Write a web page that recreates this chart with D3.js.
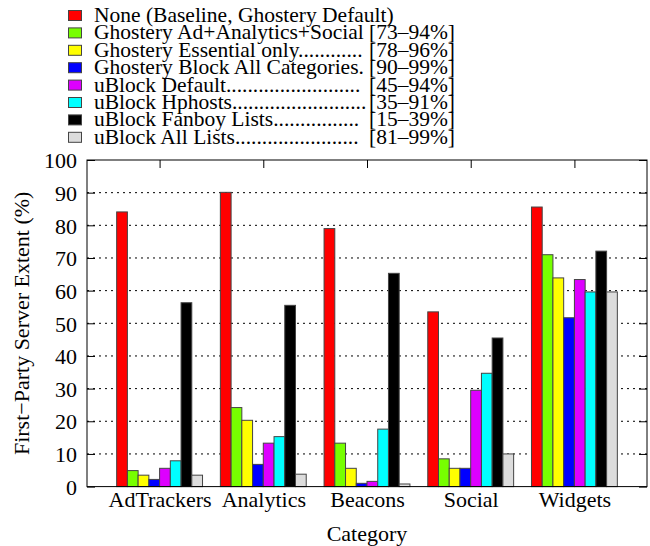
<!DOCTYPE html>
<html>
<head>
<meta charset="utf-8">
<script src="https://cdn.jsdelivr.net/npm/d3@7"></script>
<style>
  body { margin: 0; background: #fff; }
</style>
</head>
<body>
<div id="chart"></div>
<script>
const width = 650;
const height = 546;
const FONT = '"Liberation Serif", "DejaVu Serif", serif';

// categories and series
const categories = ['AdTrackers', 'Analytics', 'Beacons', 'Social', 'Widgets'];
const seriesNames = [
    'None (Baseline, Ghostery Default)',
    'Ghostery Ad+Analytics+Social',
    'Ghostery Essential only............',
    'Ghostery Block All Categories.',
    'uBlock Default.........................',
    'uBlock Hphosts.........................',
    'uBlock Fanboy Lists................',
    'uBlock All Lists.......................'
];
const seriesRanges = ['', '[73\u201394%]', '[78\u201396%]', '[90\u201399%]', '[45\u201394%]', '[35\u201391%]', '[15\u201339%]', '[81\u201399%]'];
const seriesColors = ['#ff0000', '#77ff00', '#ffff00', '#0000ff', '#dd00ff', '#00ffff', '#000000', '#dcdcdc'];

const baseline   = [84.1, 90.1, 79.0, 53.5, 85.6];
const ghAdAnSoc  = [4.9, 24.2, 13.3, 8.5, 71.0];
const ghEssent   = [3.5, 20.3, 5.6, 5.6, 63.9];
const ghBlockAll = [2.2, 6.8, 1.0, 5.6, 51.7];
const ubDefault  = [5.6, 13.3, 1.6, 29.5, 63.4];
const ubHphosts  = [7.9, 15.3, 17.6, 34.7, 59.6];
const ubFanboy   = [56.3, 55.5, 65.3, 45.5, 72.1];
const ubAllLists = [3.5, 3.8, 0.8, 10.0, 59.6];
const seriesValues = [baseline, ghAdAnSoc, ghEssent, ghBlockAll, ubDefault, ubHphosts, ubFanboy, ubAllLists];

const yTicks = d3.range(0, 101, 10);

const margin = { top: 160, right: 3, bottom: 60, left: 87 };
const plot = {
    left: margin.left,
    right: width - margin.right,
    top: margin.top,
    bottom: 486.6
};

const svg = d3.select('#chart')
    .append('svg')
    .attr('width', width)
    .attr('height', height)
    .attr('font-family', FONT);

// x is a continuous index scale like gnuplot's histogram
const xScale = d3.scaleLinear().domain([-0.7, 4.7]).range([plot.left, plot.right]);
const yScale = d3.scaleLinear().domain([0, 100]).range([plot.bottom, plot.top]);
const barW = 0.1035; // width of one bar in category units
const nSeries = seriesValues.length;

// gridlines
svg.append('g')
    .selectAll('line')
    .data(yTicks.filter(d => d > 0 && d < 100))
    .join('line')
    .attr('x1', plot.left)
    .attr('x2', plot.right)
    .attr('y1', d => yScale(d))
    .attr('y2', d => yScale(d))
    .attr('stroke', '#000')
    .attr('stroke-width', 1)
    .attr('stroke-dasharray', '2,4');

// bars
const bars = svg.append('g');
seriesValues.forEach((vals, si) => {
    bars.selectAll(null)
        .data(vals.map((v, ci) => ({ v, ci })))
        .join('rect')
        .attr('x', d => xScale(d.ci + (si - nSeries / 2) * barW))
        .attr('width', xScale(barW) - xScale(0))
        .attr('y', d => yScale(d.v))
        .attr('height', d => yScale(0) - yScale(d.v))
        .attr('fill', seriesColors[si])
        .attr('stroke', '#444')
        .attr('stroke-width', 1);
});

// frame
svg.append('rect')
    .attr('x', plot.left)
    .attr('y', plot.top)
    .attr('width', plot.right - plot.left)
    .attr('height', plot.bottom - plot.top)
    .attr('fill', 'none')
    .attr('stroke', '#000')
    .attr('stroke-width', 1);

// y axis (left, inward ticks) and mirrored right ticks
const yAxis = d3.axisLeft(yScale).tickValues(yTicks).tickSizeInner(-8).tickSizeOuter(0).tickPadding(10);
const gy = svg.append('g').attr('transform', `translate(${plot.left},0)`).call(yAxis);
gy.select('.domain').remove();
gy.attr('font-family', FONT).attr('font-size', 22);
gy.selectAll('text').attr('dy', '0.35em');

const gyr = svg.append('g').attr('transform', `translate(${plot.right},0)`)
    .call(d3.axisRight(yScale).tickValues(yTicks).tickSizeInner(-8).tickSizeOuter(0).tickFormat(''));
gyr.select('.domain').remove();

// x axis ticks (bottom labels, top ticks)
const xAxis = d3.axisBottom(xScale).tickValues(d3.range(categories.length))
    .tickFormat(i => categories[i]).tickSize(0).tickPadding(5);
const gx = svg.append('g').attr('transform', `translate(0,${plot.bottom})`).call(xAxis);
gx.select('.domain').remove();
gx.attr('font-family', FONT).attr('font-size', 22);

const gxt = svg.append('g').attr('transform', `translate(0,${plot.top})`)
    .call(d3.axisTop(xScale).tickValues(d3.range(categories.length)).tickSizeInner(-8).tickSizeOuter(0).tickFormat(''));
gxt.select('.domain').remove();

// axis titles
svg.append('text')
    .attr('x', 367)
    .attr('y', 541)
    .attr('text-anchor', 'middle')
    .attr('font-size', 22)
    .text('Category');

svg.append('text')
    .attr('transform', `translate(29,${(plot.top + plot.bottom) / 2}) rotate(-90)`)
    .attr('text-anchor', 'middle')
    .attr('font-size', 22)
    .text('First\u2212Party Server Extent (%)');

// legend
const legend = svg.append('g').attr('font-size', 21.5);
const rowH = 17.4;
seriesNames.forEach((name, i) => {
    const cy = 16 + i * rowH;
    legend.append('rect')
        .attr('x', 68.5)
        .attr('y', cy - 5.5)
        .attr('width', 13)
        .attr('height', 10)
        .attr('fill', seriesColors[i])
        .attr('stroke', '#444');
    legend.append('text')
        .attr('x', 94)
        .attr('y', cy + 6)
        .text(name);
    if (seriesRanges[i]) {
        legend.append('text')
            .attr('x', 455)
            .attr('y', cy + 6)
            .attr('text-anchor', 'end')
            .text(seriesRanges[i]);
    }
});
</script>
</body>
</html>
